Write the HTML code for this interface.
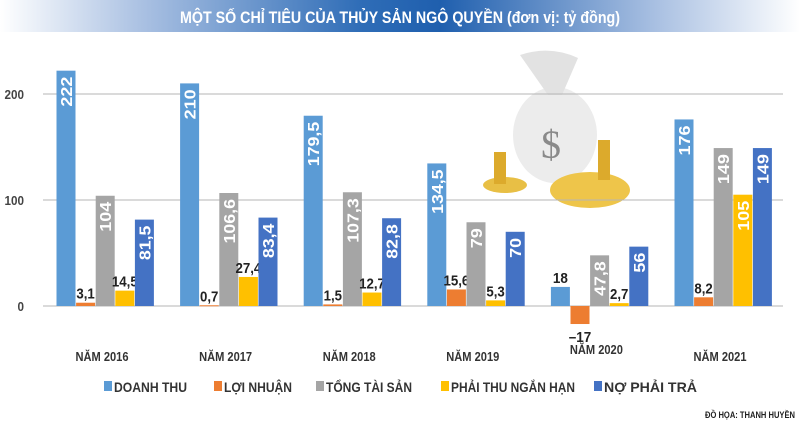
<!DOCTYPE html>
<html><head><meta charset="utf-8">
<style>
html,body{margin:0;padding:0;background:#fff;}
#wrap{position:relative;width:800px;height:426px;overflow:hidden;font-family:"Liberation Sans",sans-serif;}
#title{position:absolute;left:0;top:0;width:800px;height:32px;background:linear-gradient(90deg,#fff 0%,#a9c0e2 18%,#2f6db7 45%,#1f5fae 55%,#a9c0e2 82%,#fff 100%);}
svg{position:absolute;left:0;top:0;}
</style></head><body>
<div id="wrap">
<div id="title"></div>
<svg id="chart" width="800" height="426">
<text x="180" y="23" font-size="17" font-weight="bold" fill="#fff" textLength="440" lengthAdjust="spacingAndGlyphs">MỘT SỐ CHỈ TIÊU CỦA THỦY SẢN NGÔ QUYỀN (đơn vị: tỷ đồng)</text>
</svg>
</div>
<script>
const years=["NĂM 2016","NĂM 2017","NĂM 2018","NĂM 2019","NĂM 2020","NĂM 2021"];
const seriesNames=["DOANH THU","LỢI NHUẬN","TỔNG TÀI SẢN","PHẢI THU NGẮN HẠN","NỢ PHẢI TRẢ"];
const doanhThu=[222,210,179.5,134.5,18,176];
const loiNhuan=[3.1,0.7,1.5,15.6,-17,8.2];
const tongTaiSan=[104,106.6,107.3,79,47.8,149];
const phaiThu=[14.5,27.4,12.7,5.3,2.7,105];
const noPhaiTra=[81.5,83.4,82.8,70,56,149];
const yTicks=[0,100,200];
const colors=["#5b9bd5","#ed7d31","#a5a5a5","#ffc000","#4472c4"];
const series=[doanhThu,loiNhuan,tongTaiSan,phaiThu,noPhaiTra];
const NS="http://www.w3.org/2000/svg";
const svg=document.getElementById('chart');
const y=v=>306-v*1.06;
const gx=i=>56.5+i*123.6;
const fmt=v=>String(v).replace('.',',').replace('-','–');
function mk(t,a,p){const e=document.createElementNS(NS,t);for(const k in a)e.setAttribute(k,a[k]);(p||svg).appendChild(e);return e;}
function lenOf(s,d){let L=0;for(const c of s)L+=(c===','?d*0.45:d);return L;}
// decoration: money bag
const deco=mk('g',{});


mk('ellipse',{cx:555,cy:135,rx:42,ry:48,fill:'#ececec'},deco);
mk('path',{d:'M520 55 Q550 45 578 58 L562 95 L548 95 Z',fill:'#e2e2e2'},deco);
mk('ellipse',{cx:590,cy:190,rx:40,ry:18,fill:'#eec54a'},deco);
mk('ellipse',{cx:505,cy:185,rx:22,ry:8,fill:'#e8bf45'},deco);
mk('rect',{x:494,y:152,width:12,height:32,fill:'#dcaa2c'},deco);
mk('rect',{x:598,y:140,width:12,height:40,fill:'#dcaa2c'},deco);
const ds=mk('text',{x:551,y:158,'font-size':40,fill:'#8a8a8a','text-anchor':'middle','font-family':'Liberation Serif, serif'},deco);ds.textContent='$';


// grid
yTicks.forEach(t=>{
 const l=mk('line',{x1:43,x2:783,y1:y(t),y2:y(t),stroke:'#b5b5b5','stroke-width':1});
 
 
 const tx=mk('text',{x:24,y:y(t)+5,'font-size':13,fill:'#444','text-anchor':'end','font-weight':'bold',textLength:lenOf(String(t),6.5),lengthAdjust:'spacingAndGlyphs'});
 tx.textContent=t;
 
 
});
// bars
years.forEach((yr,i)=>{
 series.forEach((s,j)=>{
  const v=s[i];const x=gx(i)+j*19.6;const w=19;
  const top=Math.min(y(v),y(0)),h=Math.abs(y(v)-y(0));
  const r=mk('rect',{x:x,y:top,width:w,height:Math.max(h,1),fill:colors[j]});
  
  
  const lab=fmt(v);
  let t;
  if(j!==1&&h>40){
   const cx=x+w/2+6,cy=top+6;
   t=mk('text',{x:cx,y:cy,'font-size':16,'font-weight':'bold',fill:'#fff','text-anchor':'end',transform:`rotate(-90 ${cx} ${cy})`,textLength:lenOf(lab,10),lengthAdjust:'spacingAndGlyphs'});
  }else if(v<0){
   t=mk('text',{x:x+w/2,y:y(v)+18,'font-size':15,'font-weight':'bold',fill:'#222','text-anchor':'middle',textLength:lenOf(lab,7.5),lengthAdjust:'spacingAndGlyphs'});
  }else{
   t=mk('text',{x:x+w/2,y:top-4,'font-size':15,'font-weight':'bold',fill:'#222','text-anchor':'middle',textLength:lenOf(lab,7.5),lengthAdjust:'spacingAndGlyphs'});
  }
  t.textContent=lab;
  
  
 });
 const yl=mk('text',{x:gx(i)+45-26,y:i===4?354:361,'font-size':13,fill:'#333','font-weight':'bold',textLength:53,lengthAdjust:'spacingAndGlyphs'});
 yl.textContent=yr;
 
 
});
// legend
const lx=[104,214,316,441,594];
const lw=[73,68,86,124,93];
seriesNames.forEach((n,j)=>{
 const g=mk('g',{});
 
 
 mk('rect',{x:lx[j],y:381,width:8,height:10,fill:colors[j]},g);
 const t=mk('text',{x:lx[j]+10,y:392,'font-size':14,fill:'#333','font-weight':'bold',textLength:lw[j],lengthAdjust:'spacingAndGlyphs'},g);
 t.textContent=n;
});
const cr=mk('text',{x:705,y:418,'font-size':9,fill:'#222','font-weight':'bold',textLength:90,lengthAdjust:'spacingAndGlyphs'});
cr.textContent='ĐỒ HỌA: THANH HUYỀN';


</script>
</body></html>
